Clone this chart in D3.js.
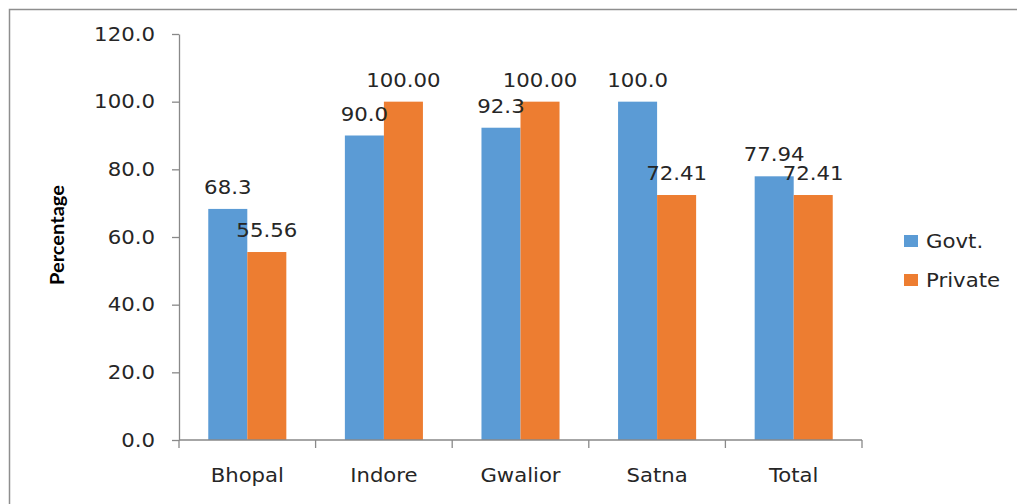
<!DOCTYPE html>
<html>
<head>
<meta charset="utf-8">
<script src="https://cdn.jsdelivr.net/npm/d3@7"></script>
<style>
  html, body { margin: 0; padding: 0; background: #fff; }
  svg { display: block; }
  text { font-family: "DejaVu Sans", sans-serif; fill: #262626; }
</style>
</head>
<body>
<svg id="chart" width="1017" height="504"></svg>
<script>
const categories = ["Bhopal", "Indore", "Gwalior", "Satna", "Total"];
const seriesNames = ["Govt.", "Private"];
const govtValues = [68.3, 90.0, 92.3, 100.0, 77.94];
const privateValues = [55.56, 100.00, 100.00, 72.41, 72.41];
const govtLabels = ["68.3", "90.0", "92.3", "100.0", "77.94"];
const privateLabels = ["55.56", "100.00", "100.00", "72.41", "72.41"];
const yTicks = [0, 20, 40, 60, 80, 100, 120];
const colors = ["#5B9BD5", "#ED7D31"];

const svg = d3.select("#chart");
const SX = 1.12;

// outer frame
svg.append("rect")
  .attr("x", 9.5).attr("y", 9.5)
  .attr("width", 1030).attr("height", 520)
  .attr("fill", "none").attr("stroke", "#8e8e8e").attr("stroke-width", 1.5);

const plotLeft = 179, plotRight = 862, plotTop = 34, plotBottom = 440;
const y = d3.scaleLinear().domain([0, 120]).range([plotBottom, plotTop]);
const x0 = d3.scaleBand().domain(categories).range([plotLeft, plotRight]).paddingInner(0).paddingOuter(0);
const x1 = d3.scaleBand().domain(seriesNames).range([0, x0.bandwidth()]).paddingInner(0).paddingOuter(0.75);

const rows = categories.map((c, i) => ({
  cat: c,
  vals: [
    { s: seriesNames[0], v: govtValues[i], lab: govtLabels[i], ci: 0 },
    { s: seriesNames[1], v: privateValues[i], lab: privateLabels[i], ci: 1 }
  ]
}));

// y axis
const yAxis = d3.axisLeft(y).tickValues(yTicks).tickFormat(d3.format(".1f"))
  .tickSize(7).tickSizeOuter(0).tickPadding(17);
const gy = svg.append("g").attr("transform", `translate(${plotLeft},0)`).call(yAxis);
gy.select(".domain").attr("stroke", "#898989").attr("stroke-width", 1.3);
gy.selectAll(".tick line").attr("stroke", "#898989").attr("stroke-width", 1.3);
gy.selectAll(".tick text")
  .attr("font-size", 19).attr("fill", "#262626")
  .each(function () {
    const t = d3.select(this);
    const xx = +t.attr("x");
    t.attr("x", null).attr("transform", `translate(${xx},0) scale(${SX},1)`);
  });

// bars
const groups = svg.append("g").selectAll("g").data(rows).join("g")
  .attr("transform", d => `translate(${x0(d.cat)},0)`);
groups.selectAll("rect").data(d => d.vals).join("rect")
  .attr("x", d => x1(d.s))
  .attr("y", d => y(d.v))
  .attr("width", x1.bandwidth())
  .attr("height", d => y(0) - y(d.v))
  .attr("fill", d => colors[d.ci]);

// x axis
const gx = svg.append("g").attr("transform", `translate(0,${plotBottom})`);
gx.append("line").attr("x1", plotLeft).attr("x2", plotRight).attr("y1", 0).attr("y2", 0)
  .attr("stroke", "#898989").attr("stroke-width", 1.3);
const boundaries = categories.map(c => x0(c)).concat([x0(categories[categories.length - 1]) + x0.bandwidth()]);
gx.selectAll("line.tk").data(boundaries).join("line").attr("class", "tk")
  .attr("x1", d => d).attr("x2", d => d).attr("y1", 0).attr("y2", 8)
  .attr("stroke", "#898989").attr("stroke-width", 1.3);
gx.selectAll("text.cl").data(categories).join("text").attr("class", "cl")
  .attr("transform", d => `translate(${x0(d) + x0.bandwidth() / 2},42) scale(1.06,1)`)
  .attr("text-anchor", "middle").attr("font-size", 20)
  .text(d => d);

// data labels
groups.selectAll("text").data(d => d.vals).join("text")
  .attr("transform", d => `translate(${x1(d.s) + x1.bandwidth() / 2},${y(d.v) - 15}) scale(${SX},1)`)
  .attr("text-anchor", "middle").attr("font-size", 19)
  .text(d => d.lab);

// y title
svg.append("text")
  .attr("transform", "translate(64,235) rotate(-90)")
  .attr("text-anchor", "middle")
  .style("font-family", "Lato, 'Open Sans', sans-serif")
  .attr("font-weight", 700).attr("font-size", 18)
  .attr("textLength", 100).attr("lengthAdjust", "spacingAndGlyphs")
  .style("fill", "#000")
  .text("Percentage");

// legend
const legY = [241, 280];
const leg = svg.append("g").selectAll("g").data(seriesNames).join("g")
  .attr("transform", (d, i) => `translate(904,${legY[i]})`);
leg.append("rect").attr("x", 0).attr("y", -6).attr("width", 14).attr("height", 12)
  .attr("fill", (d, i) => colors[i]);
leg.append("text")
  .attr("transform", `translate(22,0) scale(${SX},1)`)
  .attr("dy", "0.35em").attr("font-size", 19)
  .text(d => d);
</script>
</body>
</html>
